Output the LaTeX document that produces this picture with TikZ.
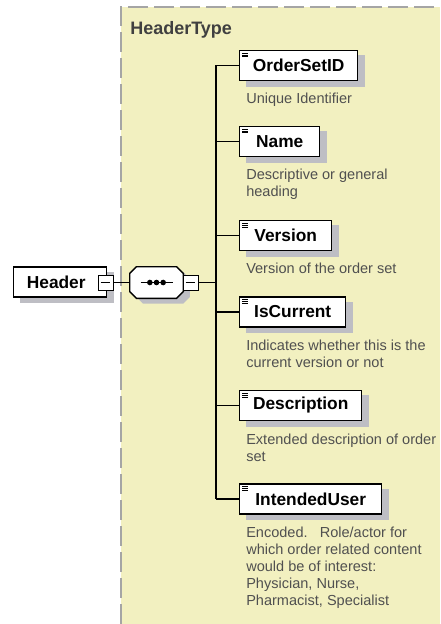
\documentclass[tikz,border=0pt]{standalone}
\usepackage{fontspec}
\setmainfont{Liberation Sans}

\definecolor{typeyellow}{RGB}{242,240,192}
\definecolor{typeborder}{RGB}{165,165,165}
\definecolor{boxshadow}{RGB}{190,190,196}
\definecolor{notegray}{RGB}{80,80,80}
\definecolor{titlegray}{RGB}{64,64,64}

\pgfdeclarelayer{back}
\pgfdeclarelayer{shadowlayer}
\pgfsetlayers{back,shadowlayer,main}

% chamfered outline of a compositor node, shifted by (#2,#3)
\newcommand{\octpath}[3]{([shift={(#2+5pt,#3)}]#1.north west) -- ([shift={(#2-5pt,#3)}]#1.north east)
  -- ([shift={(#2,#3-5pt)}]#1.north east) -- ([shift={(#2,#3+5pt)}]#1.south east)
  -- ([shift={(#2-5pt,#3)}]#1.south east) -- ([shift={(#2+5pt,#3)}]#1.south west)
  -- ([shift={(#2,#3+5pt)}]#1.south west) -- ([shift={(#2,#3-5pt)}]#1.north west) -- cycle}

\tikzset{every picture/.style={line width=0.75pt}}
\tikzset{
  box/.style={draw, line width=1.1pt, fill=white, anchor=west, minimum height=22.5pt, inner sep=0pt,
    font=\fontsize{13}{15}\selectfont\bfseries},
  element/.style={box,
    path picture={\foreach \k in {0,1,2}
      \draw[line width=0.6pt] ([shift={(2pt,{-2pt-\k*1.4pt})}]path picture bounding box.north west) -- ++(4.5pt,0pt);}},
  collapse/.style={draw, line width=0.75pt, fill=white, minimum size=11.25pt, inner sep=0pt,
    path picture={\draw ([xshift=2pt]path picture bounding box.west) -- ([xshift=-2pt]path picture bounding box.east);}},
  sequence/.style={rectangle, minimum width=39.75pt, minimum height=23.25pt, inner sep=0pt},
  note/.style={anchor=north west, inner sep=0pt, align=left, text=notegray,
    font=\fontsize{10.9}{12.75}\selectfont},
  link/.style={line width=1.1pt},
}

\begin{document}
\begin{tikzpicture}[x=0.75pt,y=-0.75pt]
\useasboundingbox (0,0) rectangle (440,624);

%Complex type area
\begin{pgfonlayer}{back}
\fill[typeyellow] (121,7) rectangle (440,624);
\draw[typeborder, line width=1.5pt, dash pattern=on 15pt off 4.5pt] (121,624) -- (121,7) -- (440,7);
\end{pgfonlayer}

% Text Node
\node[anchor=north west, inner sep=0pt, text=titlegray, font=\fontsize{13.5}{15}\selectfont\bfseries] (title) at (130,21) {HeaderType};

%Root element and sequence
\node[box, minimum width=69.75pt] (hdr) at (13,282) {Header\hspace*{6pt}};
\node[collapse] (hm) at (105.5,282.5) {};
\node[sequence] (seq) at (156.5,282.5) {};
\draw[line width=1.1pt, fill=white] \octpath{seq}{0pt}{0pt};
\draw[line width=1.1pt] ([xshift=-12pt]seq.center) -- ([xshift=12pt]seq.center);
\foreach \k in {-1,0,1}
  \fill ([xshift=\k*5pt]seq.center) circle (2.1pt);
\node[collapse] (sm) at (190.5,282.5) {};
\coordinate (spine) at (216,282.5);

%Child elements
\node[element, minimum width=88.5pt] (e1) at (239,65.5) {OrderSetID};
\node[element, minimum width=60pt] (e2) at (239,141.5) {Name};
\node[element, minimum width=69pt] (e3) at (239,235.5) {Version};
\node[element, minimum width=79.5pt] (e4) at (239,312) {IsCurrent};
\node[element, minimum width=91.5pt] (e5) at (239,405.5) {Description};
\node[element, minimum width=106.5pt] (e6) at (239,499) {IntendedUser};

%Shadows
\begin{pgfonlayer}{shadowlayer}
\foreach \b in {hdr,e1,e2,e3,e4,e5,e6}
  \fill[boxshadow] ([shift={(5pt,-4pt)}]\b.south west) rectangle ([shift={(5pt,-4pt)}]\b.north east);
\fill[boxshadow] \octpath{seq}{5pt}{-4pt};
\end{pgfonlayer}

% Text Node
\node[note] (d1) at (246,93) {Unique Identifier};
\node[note] (d2) at (246,169) {Descriptive or general\\heading};
\node[note] (d3) at (246,263) {Version of the order set};
\node[note] (d4) at (246,340) {Indicates whether this is the\\current version or not};
\node[note] (d5) at (246,434) {Extended description of order\\set};
\node[note] (d6) at (246,527) {Encoded.\ \ \ Role/actor for\\which order related content\\would be of interest:\\Physician, Nurse,\\Pharmacist, Specialist};

%Connectors
\draw[link] (hm.east) -- (seq.west);
\draw[link] (sm.east) -- (spine);
\draw[link] (spine |- e1.west) -- (spine |- e6.west);
\foreach \e in {e1,e2,e3,e4,e5,e6}
  \draw[link] (spine |- \e.west) -- (\e.west);

\end{tikzpicture}
\end{document}
